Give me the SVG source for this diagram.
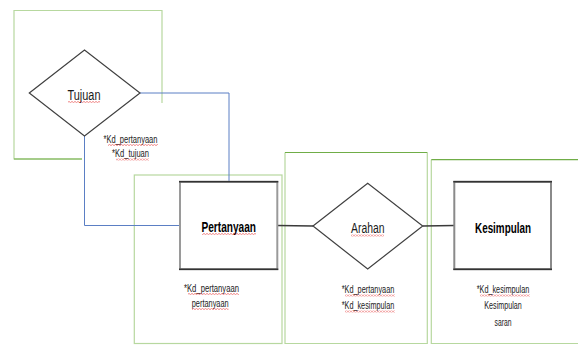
<svg xmlns="http://www.w3.org/2000/svg" width="578" height="345" viewBox="0 0 578 345">
<style>
.t{font-family:"Liberation Sans",Arial,sans-serif;fill:#1a1a1a}
.title{font-size:15.5px}
.bold{font-weight:bold;fill:#000}
.attr{font-size:11px}
.frame{fill:none;stroke:#b7d89f;stroke-width:1.2}
.frameTop{fill:none;stroke:#70ad47;stroke-width:1.2}
.dia{fill:#fff;stroke:#404040;stroke-width:1.2}
.box{fill:#fff;stroke:#9a9a9a;stroke-width:2}
.edge{stroke:#333;stroke-width:1.6}
.blue{fill:none;stroke:#5b7fc4;stroke-width:1}
.conn{fill:none;stroke:#3a3a3a;stroke-width:1.5}
</style>
<defs>
<pattern id="sq" x="0" y="0" width="3" height="2" patternUnits="userSpaceOnUse">
<path d="M0 1.6 L1.5 0.4 L3 1.6" fill="none" stroke="#e53030" stroke-width="0.6"/>
</pattern>
</defs>

<!-- frames -->
<g id="frames">
<path class="frame" d="M82 159 L14 159 L14 10.5 L162 10.5 L162 103"/>
<path class="frameTop" d="M14 159 L82 159"/>
<rect class="frame" x="134.3" y="175" width="147.7" height="168.5"/>
<path class="frame" d="M285 152.5 L285 343.5 L427.3 343.5 L427.3 152.5"/>
<path class="frameTop" d="M285 152.5 L427.3 152.5"/>
<path class="frame" d="M431.3 159.7 L431.3 343.5 L578 343.5"/>
<path class="frameTop" d="M431.3 159.7 L578 159.7"/>
</g>

<!-- connectors -->
<g id="connectors">
<path class="blue" d="M140 93 L229 93 L229 181.7"/>
<path class="blue" d="M84.5 136 L84.5 225.5 L180 225.5"/>
<path class="conn" d="M277.3 225.5 L313 226"/>
<path class="conn" d="M422.7 226 L454.3 225.5"/>
</g>

<g id="tujuan">
<polygon class="dia" points="29.3,93 84.5,50 140,93 84.5,136"/>
<text class="t title" x="67.5" y="99.5" textLength="33" lengthAdjust="spacingAndGlyphs">Tujuan</text>
<rect x="68" y="101" width="32" height="2" fill="url(#sq)"/>
<text class="t attr" x="103.5" y="142.5" textLength="54" lengthAdjust="spacingAndGlyphs">*Kd_pertanyaan</text>
<rect x="108" y="144" width="50" height="2" fill="url(#sq)"/>
<text class="t attr" x="112" y="157" textLength="37" lengthAdjust="spacingAndGlyphs">*Kd_tujuan</text>
<rect x="116" y="158.5" width="33" height="2" fill="url(#sq)"/>
</g>

<g id="pertanyaan">
<rect class="box" x="180" y="181.7" width="97.3" height="87.6"/>
<line class="edge" x1="179" y1="181.7" x2="278.3" y2="181.7"/>
<line class="edge" x1="179" y1="269.3" x2="278.3" y2="269.3"/>
<text class="t title bold" x="201.5" y="231.5" textLength="54.5" lengthAdjust="spacingAndGlyphs">Pertanyaan</text>
<rect x="202" y="233" width="54" height="2" fill="url(#sq)"/>
<text class="t attr" x="184" y="291.5" textLength="55" lengthAdjust="spacingAndGlyphs">*Kd_pertanyaan</text>
<rect x="188" y="293" width="51" height="2" fill="url(#sq)"/>
<text class="t attr" x="191.7" y="306.5" textLength="37" lengthAdjust="spacingAndGlyphs">pertanyaan</text>
<rect x="192" y="308" width="36.5" height="2" fill="url(#sq)"/>
</g>

<g id="arahan">
<polygon class="dia" points="313,226 367.7,183.3 422.7,226 367.7,269"/>
<text class="t title" x="351" y="233" textLength="33.5" lengthAdjust="spacingAndGlyphs">Arahan</text>
<rect x="351" y="234.5" width="33" height="2" fill="url(#sq)"/>
<text class="t attr" x="341.7" y="293" textLength="52.6" lengthAdjust="spacingAndGlyphs">*Kd_pertanyaan</text>
<rect x="345" y="294.5" width="50" height="2" fill="url(#sq)"/>
<text class="t attr" x="341.7" y="309" textLength="52.6" lengthAdjust="spacingAndGlyphs">*Kd_kesimpulan</text>
<rect x="345" y="310.5" width="50" height="2" fill="url(#sq)"/>
</g>

<g id="kesimpulan">
<rect class="box" x="454.3" y="181.7" width="96.7" height="87.6" style="stroke:#8a8a8a"/>
<line class="edge" x1="453.3" y1="181.7" x2="552" y2="181.7"/>
<line class="edge" x1="453.3" y1="269.3" x2="552" y2="269.3"/>
<text class="t title bold" x="475" y="233" textLength="56" lengthAdjust="spacingAndGlyphs">Kesimpulan</text>
<text class="t attr" x="476.7" y="293" textLength="52.6" lengthAdjust="spacingAndGlyphs">*Kd_kesimpulan</text>
<rect x="480" y="294.5" width="50" height="2" fill="url(#sq)"/>
<text class="t attr" x="484.3" y="309" textLength="37.4" lengthAdjust="spacingAndGlyphs">Kesimpulan</text>
<text class="t attr" x="494.5" y="326" textLength="17" lengthAdjust="spacingAndGlyphs">saran</text>
</g>
</svg>
